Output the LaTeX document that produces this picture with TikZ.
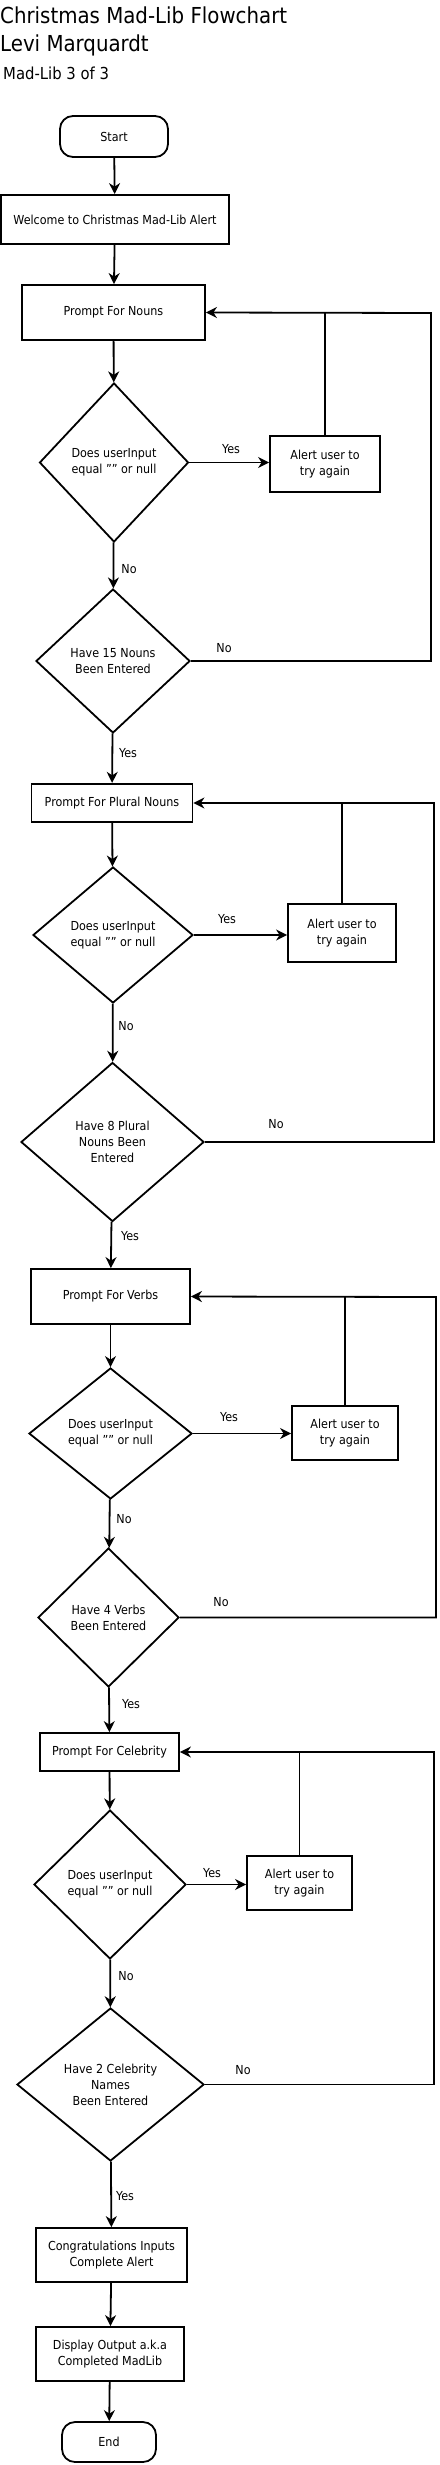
\documentclass[tikz,border=0pt]{standalone}
\usepackage{fontspec}
\setmainfont{DejaVu Sans Condensed}
\usetikzlibrary{shapes.geometric,arrows.meta}
\newcommand{\qq}{\char34\char34}
\begin{document}
\begin{tikzpicture}[x=1pt,y=-1pt,
  every node/.style={font=\fontsize{12.4}{16}\selectfont, text=black},
  box/.style={draw, line width=1.8pt, inner sep=0pt, align=center},
  term/.style={draw, line width=1.8pt, rounded corners=13pt, inner sep=0pt, align=center},
  dia/.style={draw, diamond, line width=1.8pt, inner sep=0pt, align=center},
  arr/.style={line width=1.8pt, -{Stealth[length=11pt,width=11pt,inset=3.5pt]}},
  ln/.style={line width=1.8pt},
  lbl/.style={inner sep=0pt},
  ttl/.style={anchor=base west, inner sep=0pt, font=\fontsize{22}{26}\selectfont}
]
\useasboundingbox (0,0) rectangle (439,2465);

% titles
\node[ttl] (title1) at (0,24) {Christmas Mad-Lib Flowchart};
\node[ttl] (title2) at (0,52) {Levi Marquardt};
\node[anchor=base west, inner sep=0pt, font=\fontsize{16.5}{20}\selectfont] (sub) at (3,79) {Mad-Lib 3 of 3};

% group 0 / 1
\node[term, minimum width=108pt, minimum height=41pt] (start) at (114,136.5) {Start};
\node[box, minimum width=228pt, minimum height=49pt] (welcome) at (115,219.5) {Welcome to Christmas Mad-Lib Alert};
\node[box, minimum width=183pt, minimum height=55pt] (pn) at (113.5,312.5) {Prompt For Nouns};
\node[dia, minimum width=149pt, minimum height=159pt] (dA1) at (114,462.5) {Does userInput\\equal \qq{} or null};
\node[box, minimum width=110pt, minimum height=56pt] (alA) at (325,464) {Alert user to\\try again};
\node[dia, minimum width=154pt, minimum height=144pt] (dB1) at (113,661) {Have 15 Nouns\\Been Entered};
\coordinate (rA) at (431,313);

% group 2
\node[box, minimum width=161pt, minimum height=38.5pt] (ppn) at (112,803) {Prompt For Plural Nouns};
\node[dia, minimum width=160pt, minimum height=136pt] (dA2) at (113,935) {Does userInput\\equal \qq{} or null};
\node[box, minimum width=108pt, minimum height=58pt] (alB) at (342,933) {Alert user to\\try again};
\node[dia, minimum width=183pt, minimum height=159pt] (dB2) at (112.5,1142) {Have 8 Plural\\Nouns Been\\Entered};
\coordinate (rB) at (434,803);

% group 3
\node[box, minimum width=159pt, minimum height=55pt] (pv) at (110.5,1296.5) {Prompt For Verbs};
\node[dia, minimum width=163pt, minimum height=131pt] (dA3) at (110.5,1433.5) {Does userInput\\equal \qq{} or null};
\node[box, minimum width=106pt, minimum height=54pt] (alC) at (345,1433) {Alert user to\\try again};
\node[dia, minimum width=141pt, minimum height=139pt] (dB3) at (108.5,1617.5) {Have 4 Verbs\\Been Entered};
\coordinate (rC) at (436,1297);

% group 4
\node[box, minimum width=139pt, minimum height=38pt] (pc) at (109.5,1752) {Prompt For Celebrity};
\node[dia, minimum width=152pt, minimum height=149pt] (dA4) at (110,1884.5) {Does userInput\\equal \qq{} or null};
\node[box, minimum width=105pt, minimum height=54pt] (alD) at (299.5,1883) {Alert user to\\try again};
\node[dia, minimum width=187pt, minimum height=153pt] (dB4) at (110.5,2084.5) {Have 2 Celebrity\\Names\\Been Entered};
\coordinate (rD) at (434,1752);

% ending
\node[box, minimum width=151pt, minimum height=54pt] (congrats) at (111.5,2255) {Congratulations Inputs\\Complete Alert};
\node[box, minimum width=148pt, minimum height=54pt] (display) at (110,2354) {Display Output a.k.a\\Completed MadLib};
\node[term, minimum width=94pt, minimum height=40pt] (end) at (109,2442) {End};

% connectors group 1
\draw[arr] (start) -- (welcome);
\draw[arr] (welcome) -- (pn);
\draw[arr] (pn) -- (dA1);
\draw[arr] (dA1.east) -- (dA1.east -| alA.west);
\draw[arr] (dA1) -- (dB1);
\draw[ln] (alA.north) -- (alA.north |- pn.east);
\draw[arr] (dB1.east) -| (rA) -- (pn.east);
\draw[arr] (dB1) -- (ppn);

% group 2
\draw[arr] (ppn) -- (dA2);
\draw[arr] (dA2.east) -- (dA2.east -| alB.west);
\draw[arr] (dA2) -- (dB2);
\draw[ln] (alB.north) -- (alB.north |- ppn.east);
\draw[arr] (dB2.east) -| (rB) -- (ppn.east);
\draw[arr] (dB2) -- (pv);

% group 3
\draw[arr] (pv) -- (dA3);
\draw[arr] (dA3.east) -- (dA3.east -| alC.west);
\draw[arr] (dA3) -- (dB3);
\draw[ln] (alC.north) -- (alC.north |- pv.east);
\draw[arr] (dB3.east) -| (rC) -- (pv.east);
\draw[arr] (dB3) -- (pc);

% group 4
\draw[arr] (pc) -- (dA4);
\draw[arr] (dA4.east) -- (dA4.east -| alD.west);
\draw[arr] (dA4) -- (dB4);
\draw[ln] (alD.north) -- (alD.north |- pc.east);
\draw[arr] (dB4.east) -| (rD) -- (pc.east);
\draw[arr] (dB4) -- (congrats);
\draw[arr] (congrats) -- (display);
\draw[arr] (display) -- (end);

% labels
\node[lbl] (y1) at (231,449) {Yes};
\node[lbl] (n1) at (129,569) {No};
\node[lbl] (n1r) at (224,648) {No};
\node[lbl] (y1b) at (128,753) {Yes};
\node[lbl] (y2) at (227,919) {Yes};
\node[lbl] (n2) at (126,1026) {No};
\node[lbl] (n2r) at (276,1124) {No};
\node[lbl] (y2b) at (130,1236) {Yes};
\node[lbl] (y3) at (229,1417) {Yes};
\node[lbl] (n3) at (124,1519) {No};
\node[lbl] (n3r) at (221,1602) {No};
\node[lbl] (y3b) at (131,1704) {Yes};
\node[lbl] (y4) at (212,1873) {Yes};
\node[lbl] (n4) at (126,1976) {No};
\node[lbl] (n4r) at (243,2070) {No};
\node[lbl] (y4b) at (125,2196) {Yes};
\end{tikzpicture}
\end{document}
